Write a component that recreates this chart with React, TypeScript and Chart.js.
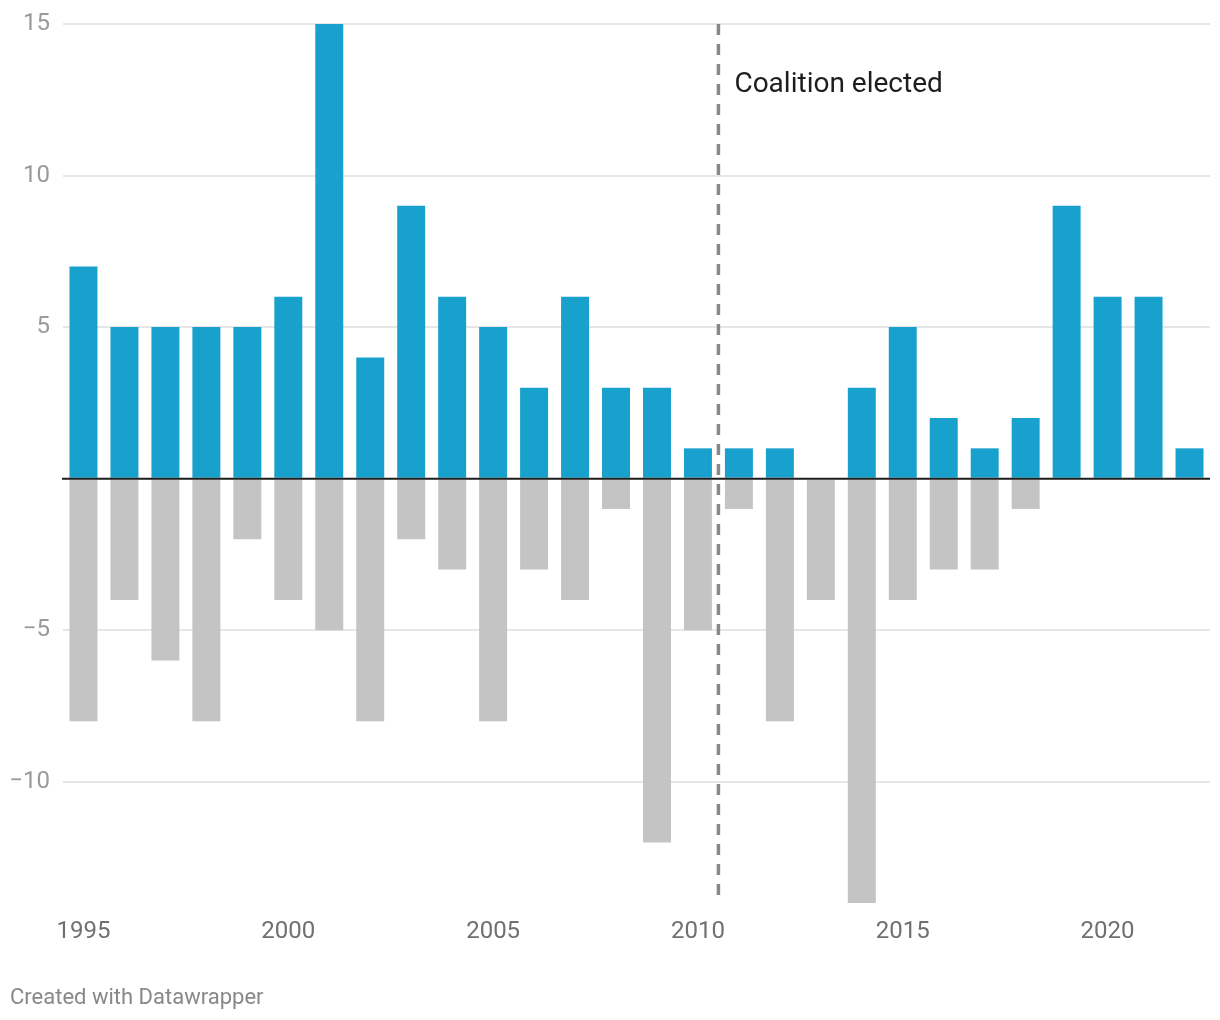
import React, { useEffect, useRef } from "react";
import { Chart, registerables } from "chart.js";

Chart.register(...registerables);

const years = [
  "1995", "1996", "1997", "1998", "1999", "2000", "2001", "2002", "2003", "2004",
  "2005", "2006", "2007", "2008", "2009", "2010", "2011", "2012", "2013", "2014",
  "2015", "2016", "2017", "2018", "2019", "2020", "2021", "2022",
];
const positiveValues = [7, 5, 5, 5, 5, 6, 15, 4, 9, 6, 5, 3, 6, 3, 3, 1, 1, 1, 0, 3, 5, 2, 1, 2, 9, 6, 6, 1];
const negativeValues = [-8, -4, -6, -8, -2, -4, -5, -8, -2, -3, -8, -3, -4, -1, -12, -5, -1, -8, -4, -14, -4, -3, -3, -1, 0, 0, 0, 0];
const yTicks = [-10, -5, 0, 5, 10, 15];
const annotationAfterYear = "2010";
const annotationLabel = "Coalition elected";

const FONT = "Roboto, 'Noto Sans', sans-serif";

const overlayPlugin = {
  id: "overlay",
  afterDatasetsDraw(chart: any) {
    const { ctx, chartArea, scales } = chart;
    const x = scales.x;
    const y = scales.y;
    // zero line
    const y0 = y.getPixelForValue(0);
    ctx.save();
    ctx.strokeStyle = "#1d1d1d";
    ctx.lineWidth = 2;
    ctx.beginPath();
    ctx.moveTo(chartArea.left - 1, y0);
    ctx.lineTo(chartArea.right, y0);
    ctx.stroke();
    // dashed annotation line
    const i = years.indexOf(annotationAfterYear);
    const xm = (x.getPixelForValue(i) + x.getPixelForValue(i + 1)) / 2;
    ctx.strokeStyle = "#888888";
    ctx.lineWidth = 3.5;
    ctx.setLineDash([11, 9]);
    ctx.beginPath();
    ctx.moveTo(xm, chartArea.top);
    ctx.lineTo(xm, chartArea.bottom);
    ctx.stroke();
    ctx.setLineDash([]);
    ctx.fillStyle = "#1d1d1d";
    ctx.font = `28px ${FONT}`;
    ctx.textAlign = "left";
    ctx.textBaseline = "middle";
    ctx.fillText(annotationLabel, xm + 16, y.getPixelForValue(13.0));
    ctx.restore();
  },
};

export default function App() {
  const ref = useRef<HTMLCanvasElement | null>(null);

  useEffect(() => {
    document.body.style.margin = "0";
    if (!ref.current) return;
    const chart = new Chart(ref.current, {
      type: "bar",
      data: {
        labels: years,
        datasets: [
          {
            data: positiveValues,
            backgroundColor: "#18a1cd",
            barPercentage: 0.683,
            categoryPercentage: 1,
          },
          {
            data: negativeValues,
            backgroundColor: "#c4c4c4",
            barPercentage: 0.683,
            categoryPercentage: 1,
          },
        ],
      },
      options: {
        animation: false,
        responsive: false,
        maintainAspectRatio: false,
        layout: { padding: { top: 24, right: 10, bottom: 0, left: 0 } },
        plugins: {
          legend: { display: false },
          tooltip: { enabled: false },
        },
        scales: {
          x: {
            stacked: true,
            grid: { display: false, drawTicks: false },
            border: { display: false },
            ticks: {
              autoSkip: false,
              maxRotation: 0,
              padding: 15,
              color: "#707070",
              font: { family: FONT, size: 24 },
              callback: (_v: any, idx: number) =>
                Number(years[idx]) % 5 === 0 ? years[idx] : "",
            },
            afterFit: (s: any) => {
              s.height = 117;
              s.paddingLeft = 0;
              s.paddingRight = 0;
            },
          },
          y: {
            stacked: true,
            min: -14,
            max: 15,
            afterBuildTicks: (s: any) => {
              s.ticks = yTicks.map((v) => ({ value: v }));
            },
            grid: {
              drawTicks: false,
              lineWidth: 2,
              color: (c: any) => (c.tick && c.tick.value === 0 ? "rgba(0,0,0,0)" : "#e6e6e6"),
            },
            border: { display: false },
            ticks: {
              padding: 13,
              color: "#9a9a9a",
              font: { family: FONT, size: 24 },
              callback: (v: any) => (v === 0 ? "" : String(v).replace("-", "\u2212")),
            },
            afterFit: (s: any) => {
              s.width = 63;
              s.paddingTop = 0;
              s.paddingBottom = 0;
            },
          },
        },
      },
      plugins: [overlayPlugin],
    });
    return () => chart.destroy();
  }, []);

  return (
    <div style={{ position: "relative", width: 1220, height: 1020 }}>
      <canvas ref={ref} width={1220} height={1020} style={{ display: "block" }} />
      <div
        style={{
          position: "absolute",
          left: 10,
          top: 984,
          fontFamily: FONT,
          fontSize: 22,
          color: "#888888",
          lineHeight: "26px",
          whiteSpace: "nowrap",
        }}
      >
        Created with Datawrapper
      </div>
    </div>
  );
}
